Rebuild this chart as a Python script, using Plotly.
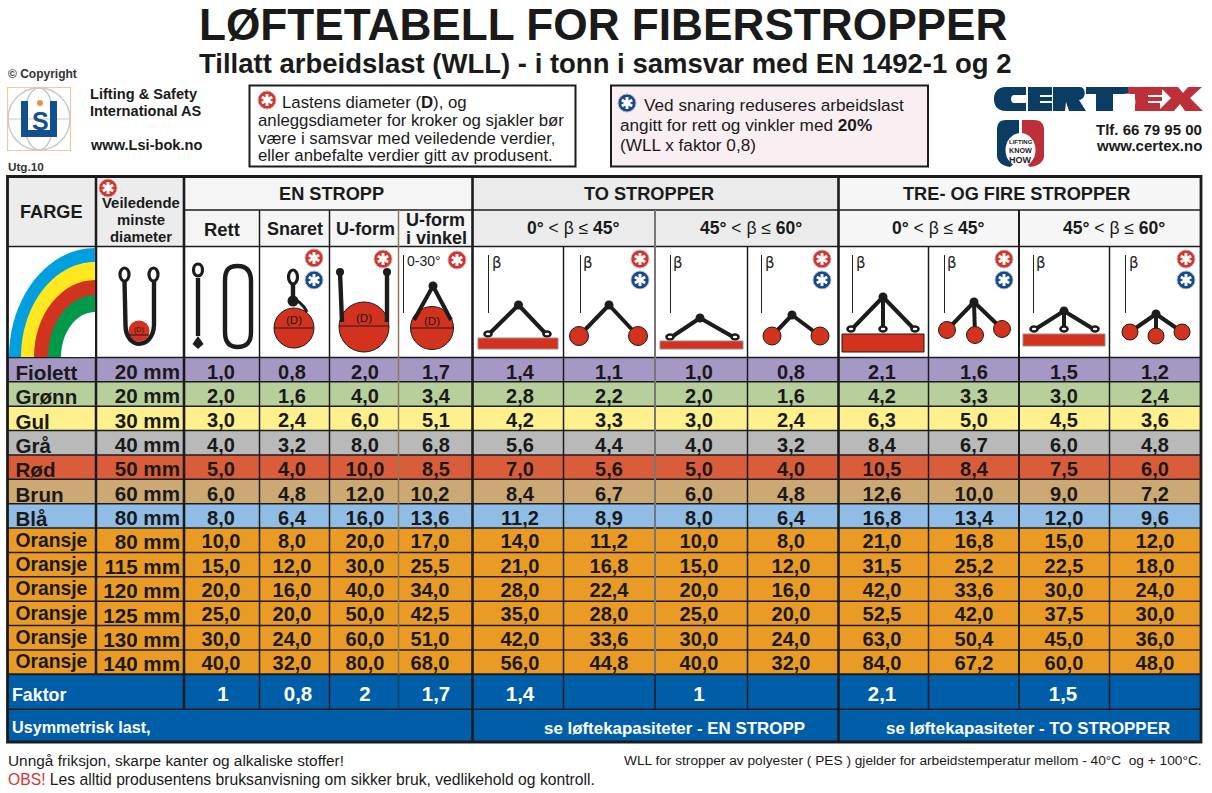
import plotly.graph_objects as go

# table data
farger = ['Fiolett', 'Grønn', 'Gul', 'Grå', 'Rød', 'Brun', 'Blå', 'Oransje', 'Oransje',
          'Oransje', 'Oransje', 'Oransje', 'Oransje']
diameter = ['20 mm', '20 mm', '30 mm', '40 mm', '50 mm', '60 mm', '80 mm', '80 mm', '115 mm',
            '120 mm', '125 mm', '130 mm', '140 mm']

en_rett = [1.0, 2.0, 3.0, 4.0, 5.0, 6.0, 8.0, 10.0, 15.0, 20.0, 25.0, 30.0, 40.0]
en_snaret = [0.8, 1.6, 2.4, 3.2, 4.0, 4.8, 6.4, 8.0, 12.0, 16.0, 20.0, 24.0, 32.0]
en_uform = [2.0, 4.0, 6.0, 8.0, 10.0, 12.0, 16.0, 20.0, 30.0, 40.0, 50.0, 60.0, 80.0]
en_uvinkel = [1.7, 3.4, 5.1, 6.8, 8.5, 10.2, 13.6, 17.0, 25.5, 34.0, 42.5, 51.0, 68.0]
to_45_rett = [1.4, 2.8, 4.2, 5.6, 7.0, 8.4, 11.2, 14.0, 21.0, 28.0, 35.0, 42.0, 56.0]
to_45_snaret = [1.1, 2.2, 3.3, 4.4, 5.6, 6.7, 8.9, 11.2, 16.8, 22.4, 28.0, 33.6, 44.8]
to_60_rett = [1.0, 2.0, 3.0, 4.0, 5.0, 6.0, 8.0, 10.0, 15.0, 20.0, 25.0, 30.0, 40.0]
to_60_snaret = [0.8, 1.6, 2.4, 3.2, 4.0, 4.8, 6.4, 8.0, 12.0, 16.0, 20.0, 24.0, 32.0]
tre_45_rett = [2.1, 4.2, 6.3, 8.4, 10.5, 12.6, 16.8, 21.0, 31.5, 42.0, 52.5, 63.0, 84.0]
tre_45_snaret = [1.6, 3.3, 5.0, 6.7, 8.4, 10.0, 13.4, 16.8, 25.2, 33.6, 42.0, 50.4, 67.2]
tre_60_rett = [1.5, 3.0, 4.5, 6.0, 7.5, 9.0, 12.0, 15.0, 22.5, 30.0, 37.5, 45.0, 60.0]
tre_60_snaret = [1.2, 2.4, 3.6, 4.8, 6.0, 7.2, 9.6, 12.0, 18.0, 24.0, 30.0, 36.0, 48.0]
kolonner = [en_rett, en_snaret, en_uform, en_uvinkel, to_45_rett, to_45_snaret,
            to_60_rett, to_60_snaret, tre_45_rett, tre_45_snaret, tre_60_rett, tre_60_snaret]

faktor = ['1', '0,8', '2', '1,7', '1,4', '', '1', '', '2,1', '', '1,5', '']

# grid in pixels of the 1212x793 page
col_x = [184, 259.5, 329.5, 398.5, 472.5, 563.5, 655, 747.5, 838.5, 928.5, 1019, 1109.5, 1201]
# text in the columns does not sit exactly mid cell
col_tekst = [221, 292, 365, 436, 520, 609, 699, 791, 882, 974, 1064, 1155]
faktor_x = [223, 298, 365, 436, 520, 609, 699, 791, 882, 974, 1063, 1155]
LEFT, COL2 = 7.5, 96
TOP, HEAD1, HEAD2, RAD0 = 176.5, 210, 246.5, 357.5
ROW_H = 24.37
rows_bottom = RAD0 + 13 * ROW_H
FAKTOR_BOTTOM, BOTTOM = 709.3, 742

rad_farge = ['#a698c4', '#b7d09b', '#fdf08d', '#b9b9b9', '#d95d3b', '#cca873', '#8fbde6',
             '#e99b26', '#e99b26', '#e99b26', '#e99b26', '#e99b26', '#e99b26']
BLUE = '#005ea8'
DARK = '#1c1c1c'
RED = '#d2321e'
FONT = 'Liberation Sans'

shapes = []
notes = []


def rect(x0, y0, x1, y1, fill=None, line=None, width=0):
    shapes.append(dict(type='rect', x0=x0, y0=y0, x1=x1, y1=y1, fillcolor=fill, layer='below',
                       line=dict(color=line, width=width) if line else dict(width=0)))


def seg(x0, y0, x1, y1, color=DARK, width=1.5):
    shapes.append(dict(type='line', x0=x0, y0=y0, x1=x1, y1=y1, layer='below',
                       line=dict(color=color, width=width)))


def circle(cx, cy, rx, ry=None, fill=None, line=None, width=1):
    ry = rx if ry is None else ry
    shapes.append(dict(type='circle', x0=cx - rx, y0=cy - ry, x1=cx + rx, y1=cy + ry,
                       fillcolor=fill, layer='below',
                       line=dict(color=line, width=width) if line else dict(width=0)))


def path(d, fill=None, line=None, width=1):
    shapes.append(dict(type='path', path=d, fillcolor=fill, layer='below',
                       line=dict(color=line, width=width) if line else dict(width=0)))


def text(x, y, s, size, bold=False, color='#1a1a1a', anchor='left', family=FONT):
    notes.append(dict(x=x, y=y, text='<b>%s</b>' % s if bold else s, showarrow=False,
                      xanchor=anchor, yanchor='middle', align=anchor, borderpad=0, borderwidth=0,
                      font=dict(family=family, size=size, color=color)))


def badge(cx, cy, color='#d8322c', r=9):
    circle(cx, cy, r, fill=color, line='#b5b5b5', width=1)
    arm = r * 0.66
    seg(cx, cy - arm, cx, cy + arm, 'white', 3)
    seg(cx - arm * 0.87, cy - arm * 0.5, cx + arm * 0.87, cy + arm * 0.5, 'white', 3)
    seg(cx - arm * 0.87, cy + arm * 0.5, cx + arm * 0.87, cy - arm * 0.5, 'white', 3)


def blue_badge(cx, cy):
    badge(cx, cy, '#12498f')


def beta(x, tx):
    seg(x, 255, x, 313, '#222222', 1)
    text(tx, 263, 'β', 15, color='#222222', anchor='center', family='DejaVu Sans')


def legs(apex, ends, width=4):
    for e in ends:
        seg(apex[0], apex[1], e[0], e[1], DARK, width)
    circle(apex[0], apex[1], 4.5, fill=DARK)


def balls(apex, centers, r):
    legs(apex, centers)
    for c in centers:
        circle(c[0], c[1], r, fill=RED, line=DARK, width=1)


def eyes(ends):
    for e in ends:
        circle(e[0], e[1], 3.5, 2.5, fill='white', line=DARK, width=2.6)


# cell fills
rect(LEFT, TOP, col_x[0], HEAD2, '#ececec')
rect(col_x[0], TOP, col_x[4], HEAD2, '#f5f5f5')
rect(col_x[4], TOP, col_x[8], HEAD2, '#ebebeb')
rect(col_x[8], TOP, col_x[12], HEAD2, '#f6f6f6')
for i, fill in enumerate(rad_farge):
    rect(LEFT, RAD0 + i * ROW_H, col_x[12], RAD0 + (i + 1) * ROW_H, fill)
rect(LEFT, rows_bottom, col_x[12], BOTTOM, BLUE)

# horizontal rules
seg(col_x[0], HEAD1, col_x[12], HEAD1)
seg(LEFT, HEAD2, col_x[12], HEAD2)
for i in range(0, 13):
    seg(LEFT, RAD0 + i * ROW_H, col_x[12], RAD0 + i * ROW_H)
seg(LEFT, rows_bottom, col_x[12], rows_bottom, DARK, 2)
seg(LEFT, FAKTOR_BOTTOM, col_x[12], FAKTOR_BOTTOM)

# vertical rules
for i, x in enumerate(col_x[:-1]):
    if i in (0, 4, 8):
        continue
    if i in (1, 2):
        seg(x, HEAD1, x, FAKTOR_BOTTOM)
    elif i == 3:
        seg(x, HEAD1, x, rows_bottom, '#8f7a5a', 1.5)
        seg(x, rows_bottom, x, FAKTOR_BOTTOM, '#1c3f63', 1.5)
    elif i in (6, 10):
        color = '#777777' if i == 6 else DARK
        seg(x, HEAD1, x, rows_bottom, color, 2)
        seg(x, rows_bottom, x, FAKTOR_BOTTOM, DARK, 1.5)
    else:
        seg(x, HEAD2, x, FAKTOR_BOTTOM)
seg(COL2, TOP, COL2, rows_bottom, DARK, 2.5)
for x in (col_x[0], col_x[4], col_x[8]):
    seg(x, TOP, x, BOTTOM if x != col_x[0] else FAKTOR_BOTTOM, DARK, 2.6)
rect(LEFT, TOP, col_x[12], BOTTOM, None, DARK, 2.8)

# header text
text(51, 212, 'FARGE', 18.2, True, anchor='center')
text(141, 203, 'Veiledende', 14.9, True, anchor='center')
text(141, 220, 'minste', 14.9, True, anchor='center')
text(141, 237, 'diameter', 14.9, True, anchor='center')
badge(108, 188)
text(331, 194, 'EN STROPP', 18.2, True, anchor='center')
text(649, 194, 'TO STROPPER', 18.2, True, anchor='center')
text(1016, 194, 'TRE- OG FIRE STROPPER', 18.2, True, anchor='center')
text(222, 229, 'Rett', 18.4, True, anchor='center')
text(295, 229, 'Snaret', 18, True, anchor='center')
text(365, 229, 'U-form', 18, True, anchor='center')
text(435, 220, 'U-form', 18, True, anchor='center')
text(436, 238, 'i vinkel', 18, True, anchor='center')
vinkel_45 = '<b>0°</b> &lt; β ≤ <b>45°</b>'
vinkel_60 = '<b>45°</b> &lt; β ≤ <b>60°</b>'
text(573, 228, vinkel_45, 17.5, anchor='center')
text(751, 228, vinkel_60, 17.5, anchor='center')
text(938, 228, vinkel_45, 17.5, anchor='center')
text(1113.5, 228, vinkel_60, 17.5, anchor='center')

# rainbow
KAPPA = 0.55
for color, rx, ry in (('#009fe0', 86, 109), ('#ffe81f', 74, 95), (RED, 61, 77),
                      ('#009a4a', 47, 62), ('white', 34, 45)):
    path('M %g 357 C %g %g %g %g 95 %g L 95 357 Z' % (
        95 - rx, 95 - rx, 357 - ry * KAPPA, 95 - rx * KAPPA, 357 - ry, 357 - ry), fill=color)

# minste diameter icon
circle(139, 331, 10.5, fill=RED)
path('M 124.5 281 L 125.5 325 C 125.5 350 153 350 154 325 L 154 281', line=DARK, width=4.4)
circle(124.5, 274.5, 4.5, 6.5, fill='white', line=DARK, width=3.2)
circle(153.5, 274.5, 4.5, 6.5, fill='white', line=DARK, width=3.2)
seg(129, 335, 149, 335, DARK, 1)
text(139, 330, '(D)', 7, anchor='center')

# rett
seg(198, 278, 198, 336, DARK, 4.4)
circle(198, 270, 4.5, 6, fill='white', line=DARK, width=3.2)
path('M 198 336 L 192.5 344 L 198 349 L 203.5 344 Z', fill=DARK)
path('M 237.5 266 C 227 266 225 272 225 281 L 225 332 C 225 342 229 347 237.5 347 '
     'C 247 347 251 342 251 332 L 251 281 C 251 272 247 266 237.5 266 Z', line=DARK, width=4.4)

# snaret
circle(294, 328, 20, fill=RED, line=DARK, width=1)
seg(274, 328, 314, 328, DARK, 1)
seg(293, 284, 293, 302, DARK, 4.4)
circle(293, 277, 4.5, 7, fill='white', line=DARK, width=3.2)
circle(293, 301, 5.5, fill=DARK)
path('M 290 298 C 300 300 304 306 307 312', line=DARK, width=3)
text(294, 320, '(D)', 11.5, anchor='center')
badge(314, 258)
blue_badge(314, 280)

# u-form
circle(364, 327, 25, fill=RED, line=DARK, width=1)
seg(339, 326, 389, 326, DARK, 1)
seg(340, 272, 342, 322, DARK, 4.4)
seg(387, 272, 387, 322, DARK, 4.4)
circle(340, 272, 4, fill=DARK)
circle(387, 272, 4, fill=DARK)
text(364, 318, '(D)', 11.5, anchor='center')
badge(383, 259)

# u-form i vinkel
circle(432, 328, 21.5, fill=RED, line=DARK, width=1)
seg(410.5, 328, 453.5, 328, DARK, 1)
seg(433, 286, 414, 320, DARK, 4)
seg(433, 286, 451, 320, DARK, 4)
circle(433, 286, 4.5, fill=DARK)
text(432, 321, '(D)', 11.5, anchor='center')
seg(403.5, 255, 403.5, 313, '#222222', 1)
text(407, 261, '0-30°', 14, color='#222222')
badge(457, 260)

# to stropper
beta(488.5, 497)
legs((518.5, 305), [(488, 335), (547, 335)])
eyes([(488, 334), (547, 334)])
rect(478, 338, 558, 349, RED, '#8f8f8f', 1)

beta(580.5, 588)
balls((609, 305), [(579, 336), (638, 336)], 9.5)
badge(640, 259)
blue_badge(640, 280)

beta(670.5, 678)
legs((700, 318), [(670, 338), (735, 338)])
eyes([(670, 337), (735, 337)])
rect(660, 341, 743, 349, RED, '#8f8f8f', 1)

beta(761.5, 770)
balls((792, 315), [(772, 336), (820, 336)], 9)
badge(822, 259)
blue_badge(822, 280)

# tre og fire stropper
beta(852.5, 861)
legs((883, 297), [(851, 330), (883, 330), (915, 330)])
eyes([(851, 329), (883, 329), (915, 329)])
rect(842, 334, 924, 352, RED, DARK, 1)

beta(944.5, 952)
balls((974, 302), [(947, 330), (975, 335), (1002, 329)], 8.5)
badge(1004, 259)
blue_badge(1004, 280)

beta(1033.5, 1041)
legs((1064, 311), [(1034, 330), (1064, 330), (1095, 330)])
eyes([(1034, 329), (1064, 329), (1095, 329)])
rect(1023, 334, 1105, 346, RED, '#8f8f8f', 1)

beta(1125.5, 1134)
balls((1156, 314), [(1130, 332), (1156, 336), (1182, 332)], 8)
badge(1186, 259)
blue_badge(1186, 280)

# top of the page
text(603, 24, 'LØFTETABELL FOR FIBERSTROPPER', 44.2, True, anchor='center')
text(605, 63, 'Tillatt arbeidslast (WLL) - i tonn i samsvar med EN 1492-1 og 2', 27.5, True, anchor='center')
text(7.5, 74, '© Copyright', 12, True, color='#333333')
text(7.5, 166, 'Utg.10', 11.7, True, color='#333333')
text(90, 94, 'Lifting &amp; Safety', 14.6, True)
text(90, 111, 'International AS', 14.6, True)
text(90, 145, 'www.Lsi-bok.no', 14.6, True)

# Lsi logo
rect(7.5, 87.5, 70.5, 150.5, 'white', '#f2c8a4', 1.2)
circle(39, 119, 31, line='#c9c9c9', width=1.5)
circle(39, 119, 15, 31, line='#c9c9c9', width=1.5)
seg(8, 119, 70, 119, '#c9c9c9', 1.2)
rect(21, 101, 28, 137, '#13508f')
rect(21, 130, 57, 137, '#13508f')
rect(50, 101, 57, 132, '#13508f')
circle(40, 103, 3, fill='#e8913c')
text(40, 121, 'S', 25, True, color='#13508f', anchor='center')

# note boxes
rect(249.5, 85.5, 575.5, 166.5, 'white', DARK, 2)
badge(267, 100)
text(282, 102, 'Lastens diameter (<b>D</b>), og', 16.8)
text(258, 120, 'anleggsdiameter for kroker og sjakler bør', 16.8)
text(258, 138, 'være i samsvar med veiledende verdier,', 16.8)
text(258, 155, 'eller anbefalte verdier gitt av produsent.', 16.8)

rect(611, 85.5, 928, 166.5, '#f9eef2', DARK, 2)
blue_badge(627, 103)
text(643.5, 105, 'Ved snaring reduseres arbeidslast', 17.2)
text(619.5, 125, 'angitt for rett og vinkler med <b>20%</b>', 17.2)
text(619.5, 145, '(WLL x faktor 0,8)', 17.2)

# CERTEX logo
NAVY, CRED = '#0b3c64', '#bd3039'
path('M 1026 87 L 1006 87 C 996 87 994 94 994 99 C 994 104 996 111 1006 111 L 1026 111 '
     'L 1026 103 L 1014 103 C 1010 103 1010 95 1014 95 L 1026 95 Z', fill=NAVY)
path('M 1028 87 L 1052 87 L 1052 95 L 1040 95 L 1040 97 L 1052 97 L 1052 101 L 1040 101 '
     'L 1040 103 L 1052 103 L 1052 111 L 1028 111 Z', fill=NAVY)
path('M 1053 87 L 1080 87 C 1086 87 1087 99 1079 100 L 1086 111 L 1069 111 L 1066 102 '
     'L 1065 111 L 1053 111 Z', fill=NAVY)
path('M 1086 87 L 1128 87 L 1128 94 L 1113 94 L 1113 111 L 1096 111 L 1096 94 L 1086 94 Z', fill=NAVY)
path('M 1128 87 L 1162 87 L 1162 95 L 1148 95 L 1148 97 L 1162 97 L 1162 101 L 1148 101 '
     'L 1148 103 L 1160 103 L 1160 111 L 1135 111 L 1135 94 L 1128 94 Z', fill=CRED)
path('M 1160 87 L 1178 87 L 1183 93 L 1188 87 L 1202 87 L 1190 98 L 1203 111 L 1185 111 '
     'L 1180 104 L 1174 111 L 1158 111 L 1171 98 Z', fill=CRED)
circle(1127, 102, 8.5, fill='white')
path('M 1019 120 L 1006 120 C 999 120 997 124 997 130 L 997 156 C 997 162 1003 166 1010 167 '
     'L 1019 160 L 1019 120 Z', fill=NAVY)
path('M 1022 120 L 1034 120 C 1041 120 1044 124 1044 130 L 1044 156 C 1044 162 1038 166 1030 167 '
     'L 1022 160 L 1022 120 Z', fill=CRED)
circle(1020.5, 150, 15, 17, fill='white')
rect(1019, 120, 1022, 133, 'white')
text(1020.5, 141.5, 'LIFTING', 6, True, anchor='center', color='#222222')
text(1020.5, 150, 'KNOW', 7.2, True, anchor='center', color='#222222')
text(1020.5, 159.5, 'HOW', 9, True, anchor='center', color='#222222')
text(1202, 129, 'Tlf. 66 79 95 00', 15, True, anchor='right')
text(1202, 145, 'www.certex.no', 15, True, anchor='right')

# footer rows of the table
text(11.5, 695, 'Faktor', 17.8, True, color='white')
text(11.5, 727, 'Usymmetrisk last,', 16.2, True, color='white')
text(674, 728, 'se løftekapasiteter - EN STROPP', 16.9, True, color='white', anchor='center')
text(1027.5, 728, 'se løftekapasiteter - TO STROPPER', 16.9, True, color='white', anchor='center')

# notes under the table
text(8, 760, 'Unngå friksjon, skarpe kanter og alkaliske stoffer!', 15.4)
text(8, 779, '<span style="color:#d8322c">OBS!</span> Les alltid produsentens bruksanvisning om sikker bruk, vedlikehold og kontroll.', 15.7)
text(1202, 760, 'WLL for stropper av polyester ( PES ) gjelder for arbeidstemperatur mellom - 40°C  og + 100°C.', 13.7, anchor='right')

# the first seven rows sit lower in their cells than the orange ones
rad_midt = [RAD0 + (i + 0.5) * ROW_H for i in range(13)]
navn_y = [y + (5 if i < 7 else 1.5) for i, y in enumerate(rad_midt)]
dia_y = [y + 4 for y in rad_midt]
verdi_y = [y + (4 if i < 7 else 3) for i, y in enumerate(rad_midt)]
navn_str = [20.6 if i < 7 else 19.3 for i in range(13)]

# all cell text goes in one trace, positions come from the grid above
cell_x = [15.5] * 13 + [180] * 13
cell_y = navn_y + dia_y
cell_text = farger + diameter
cell_pos = ['middle right'] * 13 + ['middle left'] * 13
cell_size = navn_str + [20.6] * 13
for c, verdier in enumerate(kolonner):
    for r, v in enumerate(verdier):
        # the U-form i vinkel column has its two digit values further left
        cell_x.append(430 if c == 3 and v >= 10 else col_tekst[c])
        cell_y.append(verdi_y[r])
        cell_text.append(('%.1f' % v).replace('.', ','))
        cell_pos.append('middle center')
        cell_size.append(20)

fig = go.Figure()
fig.add_trace(go.Scatter(x=cell_x, y=cell_y, text=cell_text, mode='text', textposition=cell_pos,
                         hoverinfo='skip',
                         textfont=dict(family=FONT, size=cell_size, color='#1a1a1a', weight='bold')))

fak_x = [x for x, f in zip(faktor_x, faktor) if f]
fak_text = [f for f in faktor if f]
fig.add_trace(go.Scatter(x=fak_x, y=[696] * len(fak_x), text=fak_text, mode='text',
                         textposition='middle center', hoverinfo='skip',
                         textfont=dict(family=FONT, size=20.5, color='white', weight='bold')))

fig.update_layout(
    width=1212, height=793,
    margin=dict(l=0, r=0, t=0, b=0),
    paper_bgcolor='white', plot_bgcolor='white',
    showlegend=False,
    shapes=shapes, annotations=notes,
    xaxis=dict(range=[0, 1212], visible=False, fixedrange=True),
    yaxis=dict(range=[793, 0], visible=False, fixedrange=True),
)

fig.write_html("out.html", config=dict(displayModeBar=False),
               post_script="document.body.style.margin='0';")
